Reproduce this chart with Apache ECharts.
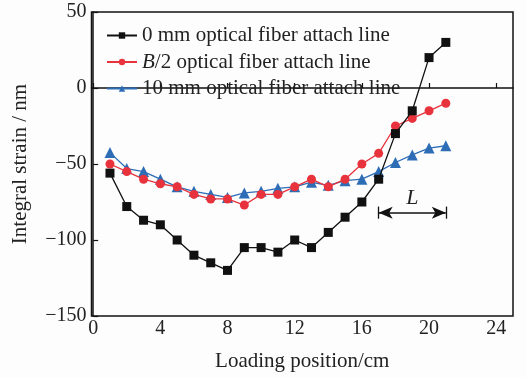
<!DOCTYPE html>
<html><head><meta charset="utf-8">
<script src="https://cdn.jsdelivr.net/npm/echarts@6/dist/echarts.min.js"></script>
<style>html,body{margin:0;padding:0;background:#fdfdfd;}#c{width:527px;height:377px;}</style>
</head><body><div id="c"></div>
<script>
const positions = [1,2,3,4,5,6,7,8,9,10,11,12,13,14,15,16,17,18,19,20,21];
const s0mm = [-56,-78,-87,-90,-100,-110,-115,-120,-105,-105,-108,-100,-105,-95,-85,-75,-60,-30,-15,20,30];
const sB2 = [-50,-55,-60,-63,-65,-70,-73,-73,-77,-70,-70,-65,-60,-65,-60,-50,-43,-25,-20,-15,-10];
const s10mm = [-42.5,-53,-55,-60,-65,-68,-70,-72,-69,-68,-66,-65,-62,-64,-61,-60,-55,-49,-44,-39.5,-38];
const xTicks = [0,4,8,12,16,20,24];
const names = ['0 mm optical fiber attach line','B/2 optical fiber attach line','10 mm optical fiber attach line'];
const L_range = [17,21];
const L_level = -82;

const font = '"Liberation Serif","Times New Roman",serif';
const chart = echarts.init(document.getElementById('c'));
const pair = (arr)=>positions.map((x,i)=>[x,arr[i]]);
chart.setOption({
  animation:false,
  backgroundColor:'#fdfdfd',
  grid:{left:91.5,right:14,top:12,bottom:58,show:true,borderColor:'#111',borderWidth:1.5,backgroundColor:'transparent'},
  legend:{
    orient:'vertical',left:101,top:20,itemWidth:30,itemHeight:8,itemGap:5.5,
    textStyle:{fontFamily:font,fontSize:21,color:'#222',
      rich:{i:{fontStyle:'italic',fontFamily:font,fontSize:21,color:'#222'},n:{fontFamily:font,fontSize:21,color:'#222'}}},
    formatter:(n)=>n.startsWith('B/2')?'{i|B}{n|'+n.slice(1)+'}':n,
    data:names
  },
  xAxis:{
    type:'value',min:-0.1,max:25,
    name:'Loading position/cm',nameLocation:'middle',nameGap:35,
    nameTextStyle:{fontFamily:font,fontSize:21,color:'#222'},
    axisLine:{show:true,lineStyle:{color:'#111',width:1.5}},
    axisTick:{show:true,inside:true,length:5,customValues:xTicks,lineStyle:{color:'#111',width:1.2}},
    axisLabel:{customValues:xTicks,fontFamily:font,fontSize:20,color:'#222',margin:3},
    splitLine:{show:false}
  },
  yAxis:{
    type:'value',min:-150,max:50,interval:50,
    name:'Integral strain / nm',nameLocation:'middle',nameGap:61,
    nameTextStyle:{fontFamily:font,fontSize:21,color:'#222'},
    axisLine:{show:true,lineStyle:{color:'#111',width:1.5}},
    axisTick:{show:true,inside:true,length:5,lineStyle:{color:'#111',width:1.2}},
    axisLabel:{fontFamily:font,fontSize:20,color:'#222',margin:5,formatter:(v)=>v<0?'\u2212'+Math.abs(v):String(v)},
    splitLine:{show:false}
  },
  series:[
    {name:names[0],type:'line',data:pair(s0mm),symbol:'rect',symbolSize:9,
     itemStyle:{color:'#111'},lineStyle:{color:'#111',width:1.3},z:3,
     markLine:{silent:true,symbol:['none','none'],lineStyle:{color:'#111',width:1.3,type:'solid'},label:{show:false},
       data:[
         [{coord:[L_range[0],L_level+4]},{coord:[L_range[0],L_level-4]}],
         [{coord:[L_range[1],L_level+4]},{coord:[L_range[1],L_level-4]}]
       ]}},
    {name:names[1],type:'line',data:pair(sB2),symbol:'circle',symbolSize:9,
     itemStyle:{color:'#e8333d'},lineStyle:{color:'#e8333d',width:1.3},z:2,
     markLine:{silent:true,symbol:['arrow','arrow'],symbolSize:[9,14],
       lineStyle:{color:'#111',width:1.5,type:'solid'},itemStyle:{color:'#111'},
       label:{show:true,position:'middle',formatter:'L',fontFamily:font,fontStyle:'italic',fontSize:22,color:'#222',distance:3},
       data:[[{coord:[L_range[0],L_level]},{coord:[L_range[1],L_level]}]]}},
    {name:names[2],type:'line',data:pair(s10mm),symbol:'triangle',symbolSize:11,
     itemStyle:{color:'#2d6db6'},lineStyle:{color:'#2d6db6',width:1.3},z:1}
  ]
});
</script></body></html>
